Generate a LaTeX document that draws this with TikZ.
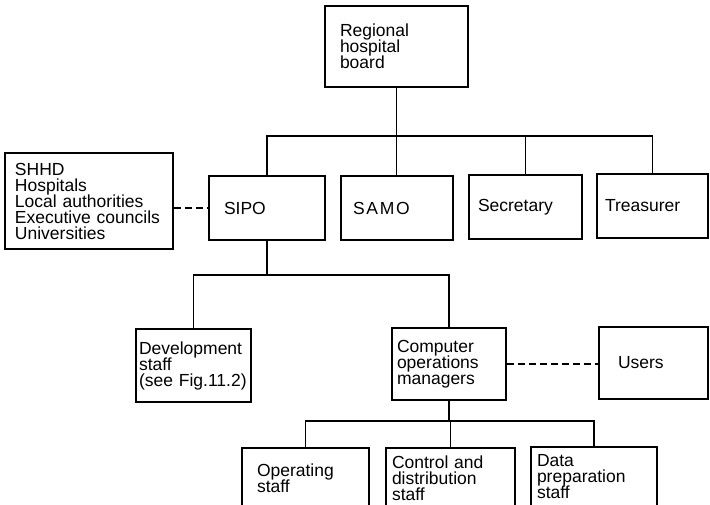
\documentclass[tikz,border=0pt]{standalone}
\usepackage{fontspec}
\setmainfont{Liberation Sans}
\usetikzlibrary{positioning}
\newcommand{\boxfont}{\fontsize{17.5pt}{16pt}\selectfont\lineskiplimit=-8pt}

\begin{document}
\begin{tikzpicture}[
  x=1pt, y=-1pt,
  unit/.style={rectangle, draw=black, line width=1.2pt, inner ysep=0pt, align=left, font=\boxfont},
  wire/.style={line width=1.2pt},
  link/.style={line width=1.2pt, dash pattern=on 7pt off 4pt}
]
\useasboundingbox (0,0) rectangle (710,504);
\clip (0,0) rectangle (710,504);

% Top of the tree
\node[unit, minimum width=143pt, minimum height=81pt, inner xsep=15pt, text width=113pt] (board) at (396.5,46.5) {Regional\\hospital\\board};

% Second row
\node[unit, minimum width=168pt, minimum height=96pt, inner xsep=10pt, text width=148pt] (outside) at (89,201) {SHHD\\Hospitals\\Local authorities\\Executive councils\\Universities};
\node[unit, minimum width=116pt, minimum height=64pt, inner xsep=15pt, text width=86pt] (sipo) at (267,208) {SIPO};
\node[unit, minimum width=112pt, minimum height=64pt, inner xsep=12pt, text width=88pt] (samo) at (397,208) {\addfontfeature{LetterSpace=10}SAMO};
\node[unit, minimum width=113pt, minimum height=64pt, inner xsep=9pt, text width=95pt] (secretary) at (525.5,207) {Secretary};
\node[unit, minimum width=111pt, minimum height=64pt, inner xsep=8pt, text width=95pt] (treasurer) at (652.5,206) {Treasurer};

% Third row
\node[unit, minimum width=115pt, minimum height=73pt, inner xsep=3pt, text width=109pt] (devstaff) at (193.5,365.5) {Development\\staff\\\mbox{(see Fig.11.2)}};
\node[unit, minimum width=114pt, minimum height=72pt, inner xsep=5pt, text width=104pt] (compops) at (449,364) {Computer\\operations\\managers};
\node[unit, minimum width=109pt, minimum height=72pt, inner xsep=19pt, text width=71pt] (users) at (653.5,363) {Users};

% Bottom row (runs off the page)
\node[unit, minimum width=127pt, minimum height=60pt, inner xsep=15pt, text width=97pt] (operating) at (305.5,478) {Operating\\staff};
\node[unit, minimum width=129pt, minimum height=60pt, inner xsep=6pt, text width=117pt] (control) at (450.5,478) {Control and\\distribution\\staff};
\node[unit, minimum width=126pt, minimum height=60pt, inner xsep=6pt, text width=114pt] (dataprep) at (594,477) {Data\\preparation\\staff};

% Bus lines
\coordinate (tbus) at (0,136);
\coordinate (mbus) at (0,275);
\coordinate (lbus) at (0,421);

% Connect the boxes
\draw[wire] (board.south) -- (board.south |- samo.north);
\draw[wire] (sipo.north) |- (tbus -| treasurer.north) -- (treasurer.north);
\draw[wire] (secretary.north) -- (secretary.north |- tbus);
\draw[wire] (sipo.south) -- (sipo.south |- mbus);
\draw[wire] (devstaff.north) |- (mbus -| compops.north) -- (compops.north);
\draw[wire] (compops.south) -- (compops.south |- lbus);
\draw[wire] (operating.north) |- (lbus -| dataprep.north) -- (dataprep.north);
\draw[wire] (control.north) -- (control.north |- lbus);

% Liaison lines
\draw[link] (outside.east |- sipo.west) -- (sipo.west);
\draw[link] (compops.east) -- (compops.east -| users.west);

\end{tikzpicture}
\end{document}
